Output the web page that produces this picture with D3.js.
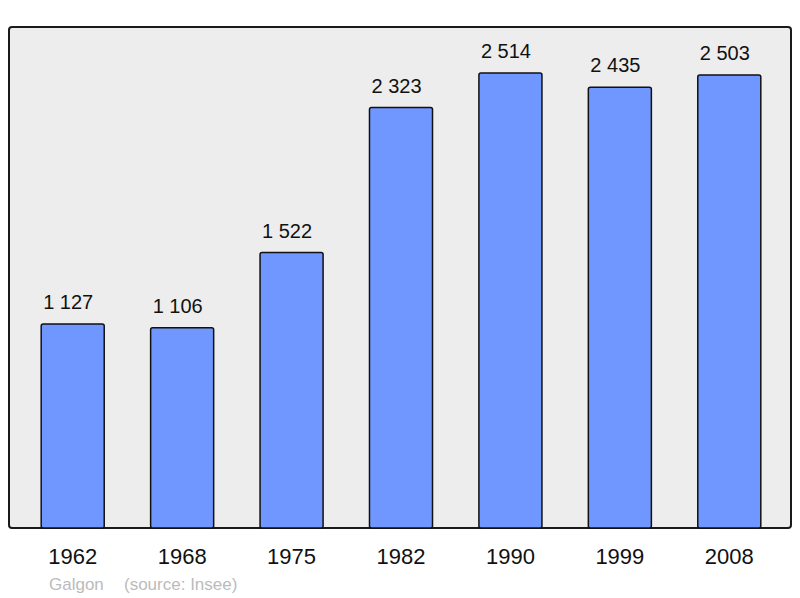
<!DOCTYPE html>
<html>
<head>
<meta charset="utf-8">
<script src="https://cdn.jsdelivr.net/npm/d3@7"></script>
<style>
  body { margin: 0; background: #fff; }
  svg { display: block; font-family: "Liberation Sans", Arial, sans-serif; }
</style>
</head>
<body>
<div id="chart"></div>
<script>
// Population data (Insee)
var years = ["1962", "1968", "1975", "1982", "1990", "1999", "2008"];
var population = [1127, 1106, 1522, 2323, 2514, 2435, 2503];
var commune = "Galgon";
var source = "(source: Insee)";

var width = 800, height = 598;
var frame = { left: 9, top: 27, right: 791, bottom: 528 };

var svg = d3.select("#chart").append("svg")
  .attr("width", width)
  .attr("height", height);

// plot background
svg.append("rect")
  .attr("x", frame.left)
  .attr("y", frame.top)
  .attr("width", frame.right - frame.left)
  .attr("height", frame.bottom - frame.top)
  .attr("rx", 3)
  .attr("fill", "#ededed")
  .attr("stroke", "#1a1a1a")
  .attr("stroke-width", 2);

var x = d3.scaleBand()
  .domain(years)
  .range([18, 784])
  .paddingInner(0.424)
  .paddingOuter(0.212);

var y = d3.scaleLinear()
  .domain([0, 2768])
  .range([frame.bottom, frame.top]);

var data = years.map(function(yr, i) { return { year: yr, value: population[i] }; });

svg.append("g").selectAll("rect")
  .data(data)
  .enter()
  .append("rect")
  .attr("x", function(d) { return x(d.year); })
  .attr("y", function(d) { return y(d.value); })
  .attr("width", x.bandwidth())
  .attr("height", function(d) { return frame.bottom - y(d.value); })
  .attr("rx", 2)
  .attr("fill", "#7096ff")
  .attr("stroke", "#111")
  .attr("stroke-width", 1.5);

// value labels, with a space as thousands separator
var fmt = function(v) { return d3.format(",")(v).replace(/,/g, " "); };

svg.append("g").selectAll("text")
  .data(data)
  .enter()
  .append("text")
  .attr("x", function(d) { return x(d.year) + 2; })
  .attr("y", function(d) { return y(d.value) - 15; })
  .attr("text-anchor", "start")
  .attr("font-size", 20)
  .attr("fill", "#111")
  .text(function(d) { return fmt(d.value); });

// year labels
var xAxis = d3.axisBottom(x).tickSize(0).tickPadding(0);
var gx = svg.append("g")
  .attr("transform", "translate(0," + 564 + ")")
  .call(xAxis);
gx.select(".domain").remove();
gx.selectAll("text")
  .attr("dy", 0)
  .attr("font-size", 22)
  .attr("font-family", "'Liberation Sans', Arial, sans-serif")
  .attr("fill", "#111");

// footer
svg.append("text")
  .attr("x", 49)
  .attr("y", 590)
  .attr("font-size", 17)
  .attr("fill", "#bbbbbb")
  .text(commune);

svg.append("text")
  .attr("x", 124)
  .attr("y", 590)
  .attr("font-size", 17)
  .attr("fill", "#bbbbbb")
  .text(source);
</script>
</body>
</html>
